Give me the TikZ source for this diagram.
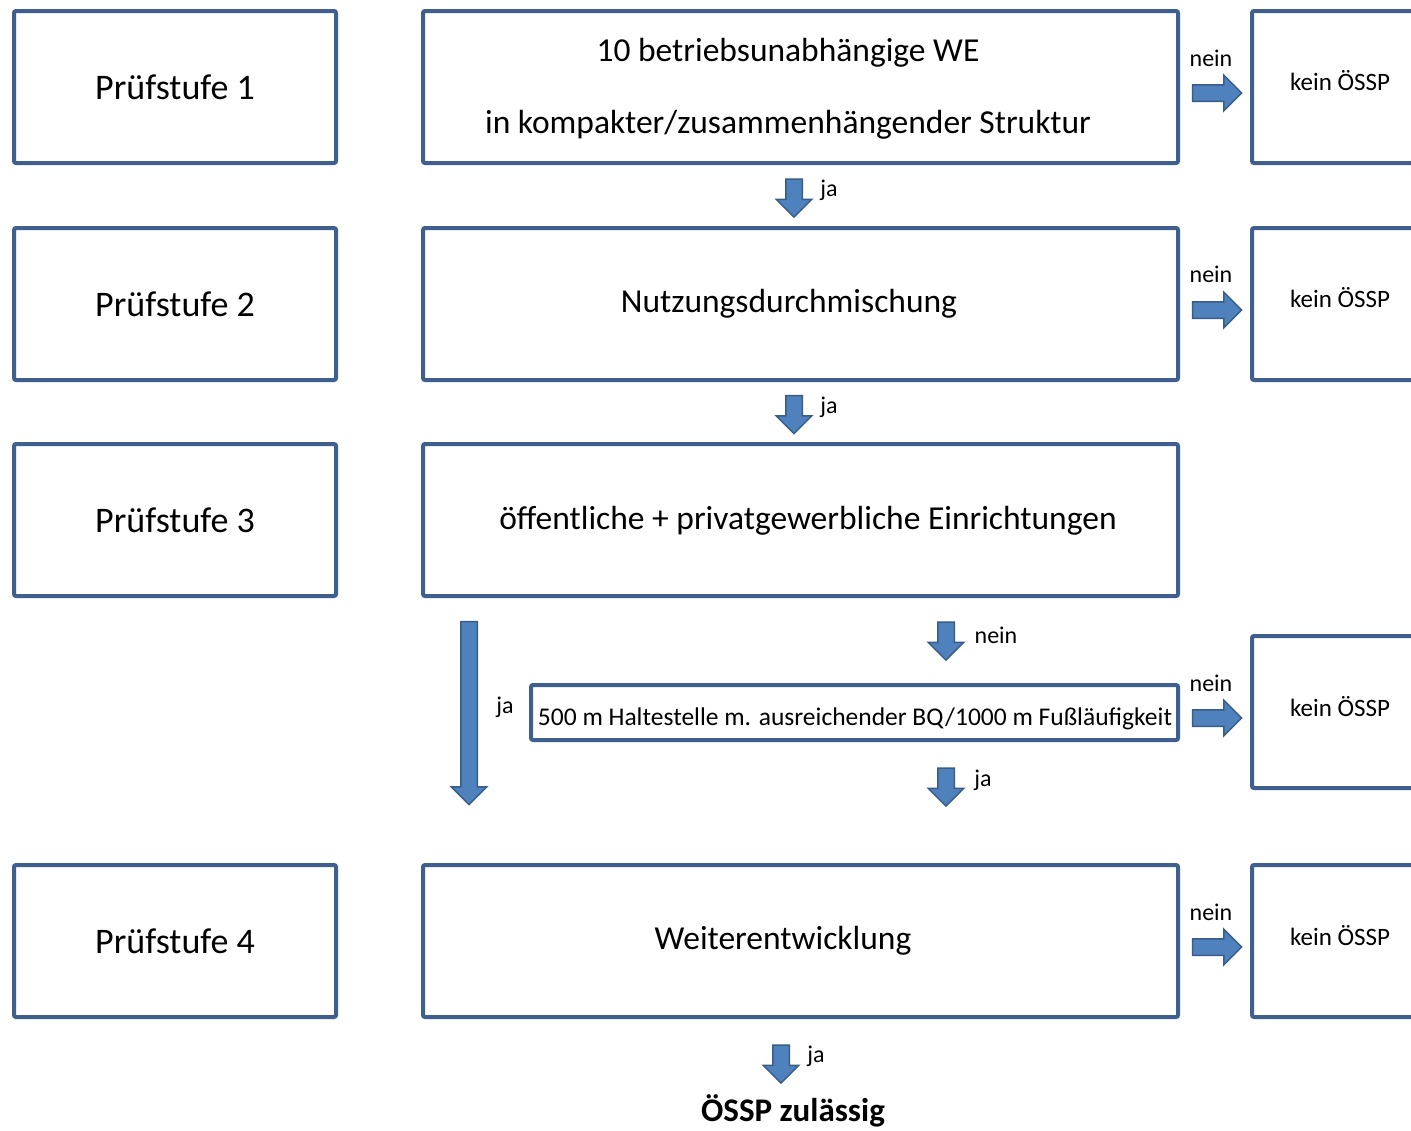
\documentclass[tikz,border=0pt]{standalone}
\usepackage{fontspec}
\setmainfont{Carlito}
\usetikzlibrary{shapes.arrows}
\definecolor{boxline}{HTML}{3F5F8E}
\definecolor{arrfill}{HTML}{4F81BD}
\definecolor{arredge}{HTML}{385D8A}
\begin{document}
\begin{tikzpicture}[x=1pt,y=-1pt,
  box/.style={draw=boxline, line width=4pt, rounded corners=2pt, fill=white, inner sep=0pt},
  stage/.style={box, minimum width=322pt, minimum height=152pt, font=\fontsize{36}{43}\selectfont},
  mainbox/.style={box, minimum width=755pt, minimum height=152pt},
  outbox/.style={box, minimum width=180pt, minimum height=152pt},
  maintext/.style={inner sep=0pt, font=\fontsize{33.5}{72}\selectfont, align=center},
  fat/.style={single arrow, draw=arredge, fill=arrfill, line width=1.5pt, inner xsep=0pt, inner ysep=7.5pt, single arrow head extend=9.5pt, minimum height=#1},
  fat/.default=38pt,
  lbl/.style={inner sep=0pt, font=\fontsize{24}{29}\selectfont},
  kein/.style={inner sep=0pt, font=\fontsize{25}{30}\selectfont}]
\clip (0,0) rectangle (1411,1130);
\fill[white] (0,0) rectangle (1411,1130);
% stage boxes
\node[stage] (s1) at (175,87) {Prüfstufe 1};
\node[stage] (s2) at (175,304) {Prüfstufe 2};
\node[stage] (s3) at (175,520) {Prüfstufe 3};
\node[stage] (s4) at (175,941) {Prüfstufe 4};
% main boxes
\node[mainbox] (m1) at (800.5,87) {};
\node[mainbox] (m2) at (800.5,304) {};
\node[mainbox] (m3) at (800.5,520) {};
\node[mainbox] (m4) at (800.5,941) {};
\node[maintext] (t1) at (788,89) {10 betriebsunabhängige WE\\in kompakter/zusammenhängender Struktur};
\node[maintext] (t2) at (789,304) {Nutzungsdurchmischung};
\node[maintext] (t3) at (808,521) {öffentliche + privatgewerbliche Einrichtungen};
\node[maintext] (t4) at (783,941) {Weiterentwicklung};
% Haltestelle box
\node[box, minimum width=647pt, minimum height=55pt] (h) at (854.5,712.5) {};
\node[inner sep=0pt, font=\fontsize{25.5}{30}\selectfont] (ht) at (855,719) {500 m Haltestelle m. ausreichender BQ/1000 m Fußläufigkeit};
% out boxes
\node[outbox] (o1) at (1342,87) {};
\node[outbox] (o2) at (1342,304) {};
\node[outbox] (o3) at (1342,712) {};
\node[outbox] (o4) at (1342,941) {};
\node[kein] (k1) at (1340,81) {kein ÖSSP};
\node[kein] (k2) at (1340,298) {kein ÖSSP};
\node[kein] (k3) at (1340,707) {kein ÖSSP};
\node[kein] (k4) at (1340,936) {kein ÖSSP};
% right arrows (nein)
\node[fat=49pt] (r1) at (1213,93) {};
\node[fat=49pt] (r2) at (1213,310) {};
\node[fat=49pt] (r3) at (1213,718) {};
\node[fat=49pt] (r4) at (1213,947) {};
\node[lbl] (n1) at (1211,58) {nein};
\node[lbl] (n2) at (1211,274) {nein};
\node[lbl] (n3) at (1211,683) {nein};
\node[lbl] (n4) at (1211,912) {nein};
% down arrows
\node[fat, rotate=-90] (d1) at (794,194) {};
\node[fat, rotate=-90] (d2) at (794,410.5) {};
\node[fat, rotate=-90] (d3) at (946,637) {};
\node[fat, rotate=-90] (d4) at (946,783) {};
\node[fat, rotate=-90] (d5) at (781,1060) {};
\node[fat=183pt, rotate=-90] (dl) at (469,709) {};
\node[lbl] (j1) at (829,190) {ja};
\node[lbl] (j2) at (829,407) {ja};
\node[lbl] (n5) at (996,635) {nein};
\node[lbl] (j4) at (983,780) {ja};
\node[lbl] (j5) at (816,1056) {ja};
\node[lbl] (jl) at (505,707) {ja};
% result
\node[inner sep=0pt, font=\fontsize{33}{40}\bfseries\selectfont] (res) at (793,1111) {ÖSSP zulässig};
\end{tikzpicture}
\end{document}
